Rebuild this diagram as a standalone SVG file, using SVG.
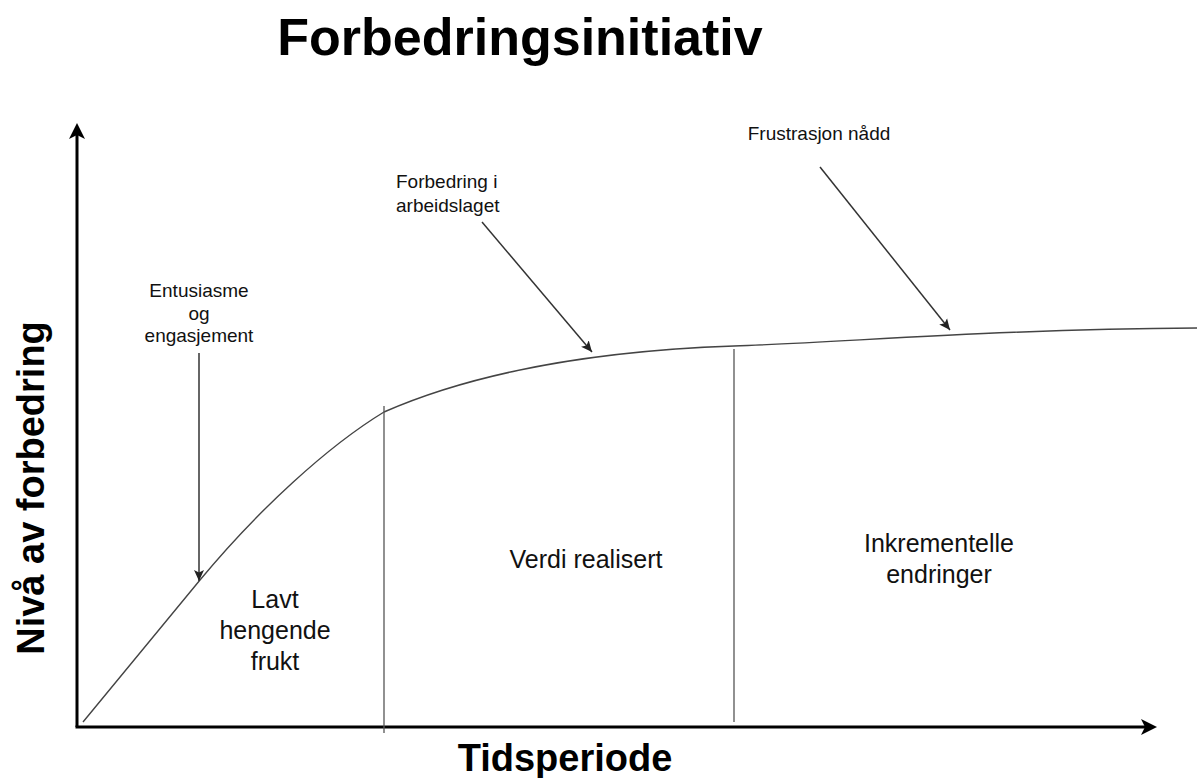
<svg xmlns="http://www.w3.org/2000/svg" width="1197" height="778" viewBox="0 0 1197 778">
<style>
.t{font-family:"Liberation Sans",Arial,sans-serif;fill:#111}
.b{font-weight:bold;fill:#000}
.s{font-size:19px}
.m{font-size:25px}
.ax{stroke:#000;stroke-width:3;fill:none}
.cv{stroke:#444;stroke-width:1.4;fill:none}
.vl{stroke:#555;stroke-width:1.3;fill:none}
.pt{stroke:#333;stroke-width:1.5;fill:none;marker-end:url(#ah)}
</style>
<defs>
<marker id="ah" markerUnits="userSpaceOnUse" markerWidth="12" markerHeight="12" viewBox="0 0 12 12" refX="11" refY="6" orient="auto">
<path d="M0,1 L11,6 L0,11 L2.5,6 Z" fill="#222"/>
</marker>
</defs>
<rect width="1197" height="778" fill="#fff"/>
<g id="title"><text class="t b" x="520" y="55" font-size="52" text-anchor="middle">Forbedringsinitiativ</text></g>
<g id="axes">
<path class="ax" d="M77,727 L77,134"/>
<polygon points="77,123 69,139 77,135 85,139" fill="#000"/>
<path class="ax" d="M75.5,727 L1146,727"/>
<polygon points="1157,727 1141,719 1145,727 1141,735" fill="#000"/>
</g>
<g id="y-label"><text class="t b" font-size="38" text-anchor="middle" transform="translate(44,488) rotate(-90)">Nivå av forbedring</text></g>
<g id="x-label"><text class="t b" x="565" y="771" font-size="38" text-anchor="middle">Tidsperiode</text></g>
<g id="curve">
<path class="cv" d="M83,722 L200,580 C258,510 328,446 384,412 C450,383 560,352 734,346 C850,342 1000,329 1197,328"/>
</g>
<g id="dividers">
<path class="vl" d="M384,406 L384,733"/>
<path class="vl" d="M734,349 L734,722"/>
</g>
<g id="region-1"><text class="t m" text-anchor="middle"><tspan x="275" y="608">Lavt</tspan><tspan x="275" y="639">hengende</tspan><tspan x="275" y="670">frukt</tspan></text></g>
<g id="region-2"><text class="t m" x="586" y="568" text-anchor="middle">Verdi realisert</text></g>
<g id="region-3"><text class="t m" text-anchor="middle"><tspan x="939" y="552">Inkrementelle</tspan><tspan x="939" y="583">endringer</tspan></text></g>
<g id="label-entusiasme"><text class="t s" text-anchor="middle"><tspan x="199" y="297">Entusiasme</tspan><tspan x="199" y="320">og</tspan><tspan x="199" y="342">engasjement</tspan></text></g>
<g id="label-forbedring"><text class="t s"><tspan x="396" y="188">Forbedring i</tspan><tspan x="396" y="212">arbeidslaget</tspan></text></g>
<g id="label-frustrasjon"><text class="t s" x="819" y="140" text-anchor="middle">Frustrasjon nådd</text></g>
<g id="connectors">
<path class="pt" d="M199,353 L199,581"/>
<path class="pt" d="M482,222 L592,352"/>
<path class="pt" d="M820,167 L950,330"/>
</g>
</svg>
